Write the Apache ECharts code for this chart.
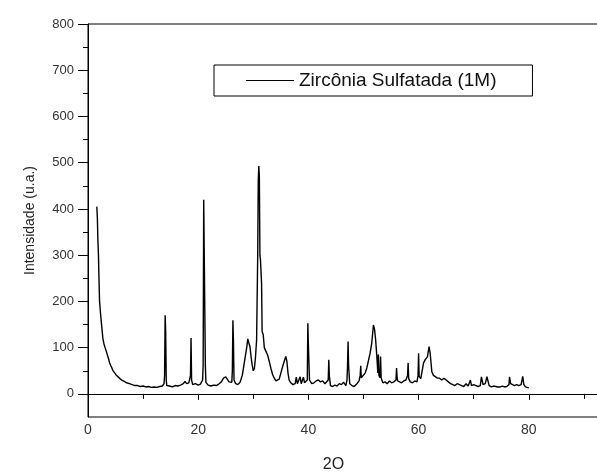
<!DOCTYPE html>
<html>
<head>
<meta charset="utf-8">
<script src="https://cdn.jsdelivr.net/npm/echarts@6/dist/echarts.min.js"></script>
<style>
html, body { margin: 0; padding: 0; background: #fff; }
#chart { width: 597px; height: 475px; }
</style>
</head>
<body>
<div id="chart"></div>
<script>
// XRD pattern
var twoTheta = [
	1.6, 1.7, 1.8, 1.9, 2.0, 2.1, 2.3, 2.5, 2.7, 2.9, 3.1, 3.3, 3.5, 3.7, 3.9, 4.1, 4.3, 4.5, 4.8, 5.1,
	5.4, 5.8, 6.2, 6.6, 7.0, 7.5, 8.0, 8.5, 9.0, 9.5, 10.0, 10.5, 11.0, 11.5, 12.0, 12.5, 13.0, 13.5, 13.8, 13.9,
	14.0, 14.1, 14.2, 14.3, 14.8, 15.3, 15.8, 16.3, 16.8, 17.3, 17.6, 17.9, 18.3, 18.6, 18.7, 18.8, 19.0, 19.5, 20.0, 20.4,
	20.8, 20.9, 21.0, 21.2, 21.3, 21.4, 21.8, 22.3, 22.8, 23.3, 23.8, 24.2, 24.6, 25.0, 25.3, 25.6, 25.9, 26.1, 26.2, 26.3,
	26.4, 26.5, 26.8, 27.2, 27.6, 28.0, 28.4, 28.8, 29.0, 29.2, 29.4, 29.6, 29.8, 30.0, 30.2, 30.4, 30.6, 30.8, 30.9, 31.0,
	31.1, 31.2, 31.3, 31.5, 31.6, 31.8, 32.0, 32.3, 32.6, 32.9, 33.2, 33.5, 33.8, 34.1, 34.4, 34.7, 35.0, 35.3, 35.6, 35.9,
	36.1, 36.3, 36.5, 36.8, 37.2, 37.6, 37.8, 38.0, 38.3, 38.5, 38.7, 39.0, 39.1, 39.3, 39.6, 39.8, 39.9, 40.0, 40.2, 40.6,
	41.0, 41.4, 41.8, 42.2, 42.6, 43.0, 43.3, 43.6, 43.7, 43.8, 44.0, 44.4, 44.8, 45.2, 45.6, 46.0, 46.4, 46.8, 47.0, 47.1,
	47.2, 47.3, 47.5, 47.9, 48.3, 48.8, 49.2, 49.4, 49.5, 49.6, 49.9, 50.3, 50.6, 50.9, 51.2, 51.5, 51.8, 52.0, 52.2, 52.4,
	52.6, 52.7, 52.8, 53.0, 53.1, 53.2, 53.5, 53.9, 54.3, 54.7, 55.1, 55.5, 55.9, 56.0, 56.1, 56.2, 56.5, 56.9, 57.3, 57.7,
	58.0, 58.1, 58.2, 58.5, 58.9, 59.3, 59.7, 59.9, 60.0, 60.1, 60.4, 60.6, 60.9, 61.2, 61.6, 61.9, 62.1, 62.4, 62.7, 63.0,
	63.4, 63.8, 64.2, 64.6, 65.0, 65.4, 65.8, 66.2, 66.6, 67.0, 67.4, 67.8, 68.2, 68.6, 69.0, 69.4, 69.6, 70.0, 70.4, 70.8,
	71.2, 71.4, 71.7, 72.1, 72.4, 72.8, 73.2, 73.6, 74.0, 74.4, 74.8, 75.2, 75.6, 76.0, 76.4, 76.5, 76.7, 77.0, 77.4, 77.8,
	78.2, 78.6, 78.9, 79.1, 79.4, 79.7, 80.0
];
var intensity = [
	405, 380, 330, 300, 245, 200, 170, 145, 120, 108, 100, 93, 85, 77, 68, 62, 57, 51, 46, 41,
	37, 33, 29, 27, 24, 22, 20, 18, 18, 16, 17, 15, 16, 14, 15, 14, 16, 17, 22, 40,
	170, 133, 30, 18, 17, 15, 18, 17, 19, 22, 27, 22, 24, 40, 121, 30, 20, 22, 19, 21,
	30, 63, 420, 418, 60, 25, 19, 17, 19, 18, 22, 26, 34, 37, 33, 26, 22, 25, 50, 159,
	113, 30, 22, 20, 25, 40, 70, 100, 119, 110, 102, 80, 62, 50, 55, 80, 117, 300, 460, 493,
	470, 300, 290, 240, 135, 128, 100, 92, 84, 70, 55, 42, 34, 28, 25, 32, 45, 58, 70, 81,
	70, 45, 30, 24, 20, 22, 36, 22, 20, 37, 22, 20, 36, 24, 22, 30, 153, 105, 30, 22,
	24, 28, 30, 26, 28, 22, 20, 30, 74, 40, 18, 16, 19, 17, 22, 20, 25, 18, 30, 60,
	113, 60, 22, 18, 16, 22, 28, 40, 61, 35, 38, 45, 56, 55, 88, 110, 149, 140, 117, 85,
	45, 85, 40, 35, 81, 35, 24, 26, 22, 28, 24, 26, 30, 56, 35, 28, 30, 24, 28, 30,
	40, 67, 33, 26, 24, 28, 26, 40, 88, 38, 33, 34, 67, 74, 80, 102, 88, 48, 40, 37,
	34, 34, 30, 34, 30, 26, 22, 20, 18, 22, 20, 18, 16, 22, 17, 30, 18, 20, 18, 16,
	18, 37, 20, 22, 37, 18, 15, 17, 16, 15, 15, 17, 15, 16, 20, 37, 22, 20, 18, 20,
	18, 20, 38, 20, 15, 14, 13
];
var yTicks = [0, 100, 200, 300, 400, 500, 600, 700, 800];
var yMinorTicks = [50, 150, 250, 350, 450, 550, 650, 750];
var seriesName = 'Zircônia Sulfatada (1M)';

var points = twoTheta.map(function(x, i) {
	return [x, intensity[i]];
});

var font = 'Liberation Sans, Arial, sans-serif';
var chart = echarts.init(document.getElementById('chart'));
chart.setOption({
	animation: false,
	grid: {
		left: 88,
		top: 24,
		right: -42,
		bottom: 58,
		outerBoundsMode: 'none',
		containLabel: false,
		show: true,
		borderColor: '#000',
		borderWidth: 1
	},
	legend: {
		left: 214,
		top: 65,
		orient: 'horizontal',
		data: [{ name: seriesName, icon: 'rect' }],
		itemWidth: 48,
		itemHeight: 1,
		borderColor: '#000',
		borderWidth: 1,
		padding: [6, 36, 6, 32],
		textStyle: { fontFamily: font, fontSize: 19, color: '#111', lineHeight: 19 }
	},
	xAxis: {
		type: 'value',
		min: 0,
		max: 100,
		interval: 20,
		name: '2O',
		nameLocation: 'middle',
		nameGap: 40,
		nameTextStyle: { fontFamily: font, fontSize: 16, color: '#222', padding: [0, 60, 0, 0] },
		splitLine: { show: false },
		axisLine: { lineStyle: { color: '#000', width: 1 } },
		axisTick: { length: 6, lineStyle: { color: '#000' } },
		minorTick: { show: true, splitNumber: 2, length: 5, lineStyle: { color: '#000' } },
		axisLabel: { fontFamily: font, fontSize: 14, color: '#333', margin: 6 }
	},
	yAxis: [
		{
			type: 'value',
			min: -50,
			max: 800,
			interval: 50,
			name: 'Intensidade (u.a.)',
			nameLocation: 'middle',
			nameGap: 51,
			nameTextStyle: { fontFamily: font, fontSize: 14, color: '#222' },
			splitLine: { show: false },
			axisLine: { lineStyle: { color: '#000', width: 1 } },
			axisTick: { length: 10, customValues: yTicks, lineStyle: { color: '#000' } },
			axisLabel: { fontFamily: font, fontSize: 13, color: '#333', margin: 14, customValues: yTicks }
		},
		{
			type: 'value',
			min: -50,
			max: 800,
			interval: 50,
			position: 'left',
			splitLine: { show: false },
			axisLine: { show: false },
			axisTick: { length: 5, customValues: yMinorTicks, lineStyle: { color: '#000' } },
			axisLabel: { show: false }
		}
	],
	series: [
		{
			name: seriesName,
			type: 'line',
			data: points,
			showSymbol: false,
			lineStyle: { color: '#000', width: 1.4 },
			itemStyle: { color: '#000' }
		}
	]
});
</script>
</body>
</html>
